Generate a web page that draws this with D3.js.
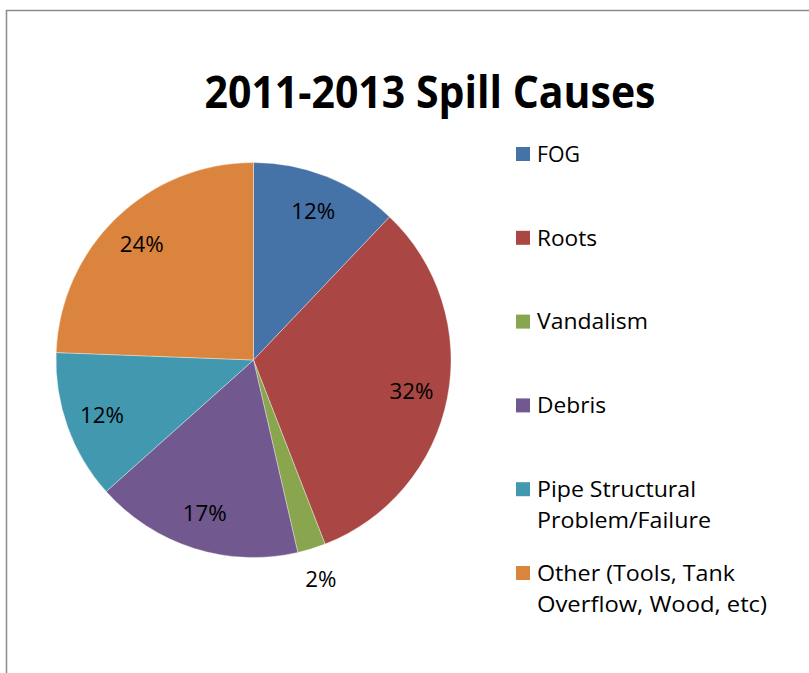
<!DOCTYPE html>
<html><head><meta charset="utf-8">
<script src="https://cdn.jsdelivr.net/npm/d3@7"></script>
<style>body{margin:0;background:#fff}svg{display:block}</style>
</head><body>
<svg id="c" width="809" height="673"></svg>
<script>
const categories = ["FOG","Roots","Vandalism","Debris","Pipe Structural Problem/Failure","Other (Tools, Tank Overflow, Wood, etc)"];
const legendLines = [["FOG"],["Roots"],["Vandalism"],["Debris"],["Pipe Structural","Problem/Failure"],["Other (Tools, Tank","Overflow, Wood, etc)"]];
const values = [12.1, 32.0, 2.3, 17.0, 12.2, 24.4];
const colors = ["#4572A7","#AA4643","#89A54E","#71588F","#4198AF","#DB843D"];
const title = "2011-2013 Spill Causes";

const svg = d3.select("#c");
const font = "'Open Sans', sans-serif";

// frame
svg.append("rect").attr("x",6.5).attr("y",10.5).attr("width",840).attr("height",700)
  .attr("fill","#fff").attr("stroke","#8c8c8c").attr("stroke-width",1.5);

// title
svg.append("text").attr("x",430).attr("y",108).attr("text-anchor","middle")
  .attr("font-family",font).attr("font-weight","bold").attr("font-size",44)
  .attr("textLength",451).attr("lengthAdjust","spacingAndGlyphs")
  .text(title);

const cx = 253.5, cy = 360, r = 197.5;
const total = d3.sum(values);
const pie = d3.pie().sort(null).value(d=>d)(values);
const arc = d3.arc().innerRadius(0).outerRadius(r);
const g = svg.append("g").attr("transform",`translate(${cx},${cy})`);
g.selectAll("path").data(pie).join("path")
  .attr("d",arc).attr("fill",(d,i)=>colors[i])
  .attr("stroke","#fff").attr("stroke-width",0.6).attr("stroke-opacity",0.6);

const inArc = d3.arc().innerRadius(161).outerRadius(161);
const outArc = d3.arc().innerRadius(229).outerRadius(229);
const labs = g.selectAll("text.lab").data(pie).join("text").attr("class","lab")
  .attr("transform",d=>{
    const p = (d.value/total < 0.05 ? outArc : inArc).centroid(d);
    return `translate(${p[0]},${p[1]})`;})
  .attr("text-anchor","middle").attr("dy","0.36em")
  .attr("font-family",font).attr("font-size",20).attr("fill","#000")
  .text(d=>Math.round(d.value/total*100)+"%");
// size labels so "12%" is ~44px wide
{
  const w = labs.nodes()[0].getComputedTextLength();
  labs.attr("font-size", 20*44/w);
}

// legend
const legendWidths = {"FOG":43,"Roots":60,"Vandalism":111,"Debris":69,
  "Pipe Structural":159,"Problem/Failure":174,"Other (Tools, Tank":198,"Overflow, Wood, etc)":230};
const ly = d3.scalePoint().domain(categories).range([154, 573]);
const lg = svg.append("g");
categories.forEach((c,i)=>{
  const y = ly(c);
  lg.append("rect").attr("x",516).attr("y",y-7).attr("width",14).attr("height",14).attr("fill",colors[i]);
  legendLines[i].forEach((t,j)=>{
    lg.append("text").attr("x",537).attr("y",y+j*31).attr("dy","0.36em")
      .attr("font-family",font).attr("font-size",21.5).attr("fill","#000")
      .attr("textLength",legendWidths[t]).attr("lengthAdjust","spacingAndGlyphs").text(t);
  });
});
</script>
</body></html>
